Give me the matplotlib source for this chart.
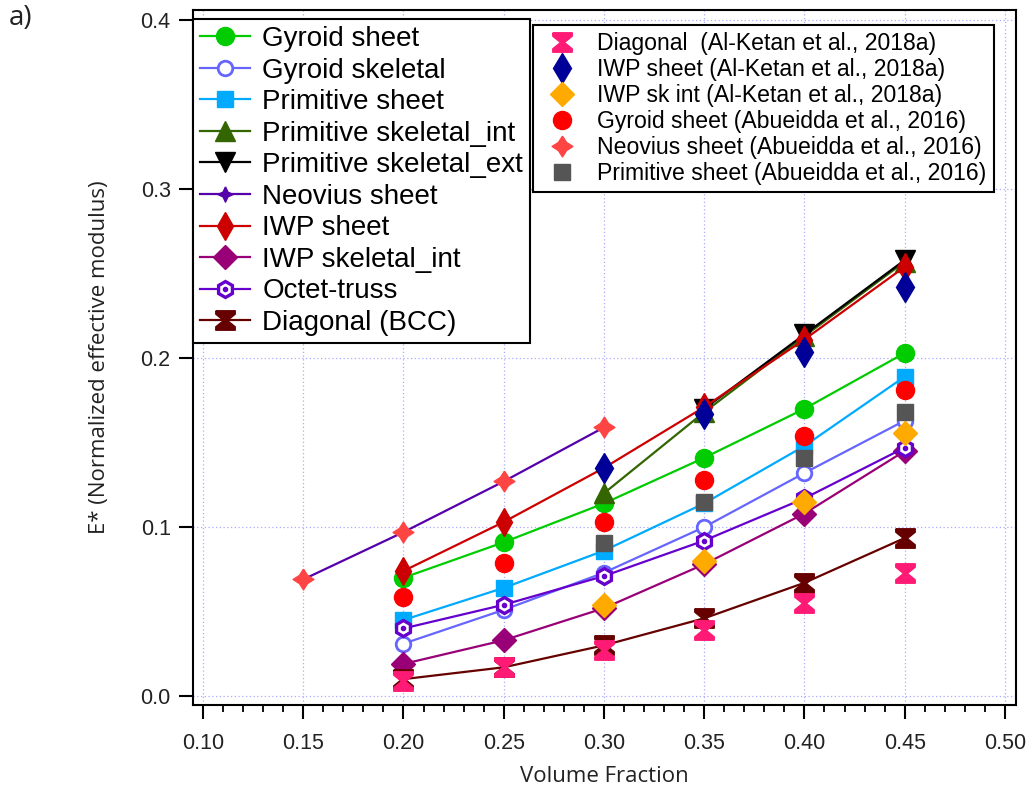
import numpy as np
import matplotlib
matplotlib.use("Agg")
import matplotlib.pyplot as plt
from matplotlib.path import Path
from matplotlib.legend_handler import HandlerTuple
from matplotlib.ticker import MultipleLocator

# === DATOS === #
vf = [0.20, 0.25, 0.30, 0.35, 0.40, 0.45]

gyroid_sheet = [0.070, 0.091, 0.114, 0.141, 0.170, 0.203]
gyroid_skeletal = [0.031, 0.051, 0.073, 0.100, 0.132, 0.163]
primitive_sheet = [0.045, 0.064, 0.086, 0.114, 0.148, 0.189]
vf_prim_int = [0.30, 0.35, 0.40, 0.45]
primitive_sk_int = [0.120, 0.168, 0.213, 0.257]
vf_prim_ext = [0.35, 0.40, 0.45]
primitive_sk_ext = [0.170, 0.214, 0.258]
vf_neovius = [0.15, 0.20, 0.25, 0.30]
neovius_sheet = [0.069, 0.097, 0.127, 0.159]
iwp_sheet = [0.074, 0.103, 0.135, 0.171, 0.211, 0.254]
iwp_sk_int = [0.019, 0.033, 0.052, 0.078, 0.108, 0.145]
octet_truss = [0.040, 0.054, 0.071, 0.092, 0.117, 0.147]
diagonal_bcc = [0.010, 0.017, 0.030, 0.046, 0.067, 0.0935]

# literatura
diag_alketan = [0.009, 0.017, 0.027, 0.039, 0.055, 0.073]
vf_iwp_alketan = [0.30, 0.35, 0.40, 0.45]
iwp_sheet_alketan = [0.135, 0.167, 0.2035, 0.242]
vf_iwpsk_alketan = [0.30, 0.35, 0.40, 0.45]
iwp_skint_alketan = [0.054, 0.080, 0.115, 0.1556]
gyroid_abueidda = [0.0586, 0.079, 0.103, 0.128, 0.154, 0.181]
vf_neo_abueidda = [0.15, 0.20, 0.25, 0.30]
neovius_abueidda = [0.069, 0.097, 0.127, 0.159]
vf_prim_abueidda = [0.30, 0.35, 0.40, 0.45]
primitive_abueidda = [0.0905, 0.115, 0.141, 0.168]

# === MARCADORES === #
reloj = Path([(-1, 1), (1, 1), (1, 0.65), (0.2, 0), (1, -0.65), (1, -1),
              (-1, -1), (-1, -0.65), (-0.2, 0), (-1, 0.65), (-1, 1)])


def estrella4(r_in):
    pts = []
    for k in range(8):
        ang = np.pi / 2 + k * np.pi / 4
        r = 1.0 if k % 2 == 0 else r_in
        pts.append((r * np.cos(ang), r * np.sin(ang)))
    pts.append(pts[0])
    return Path(pts)


estrella_neo = estrella4(0.45)
estrella_ref = estrella4(0.55)

plt.rcParams["font.family"] = ["Liberation Sans", "DejaVu Sans"]

fig = plt.figure(figsize=(10.33, 7.94), dpi=100)
ax = fig.add_axes([0.1868, 0.1121, 0.7967, 0.8753])

lw = 1.6
h_gs, = ax.plot(vf, gyroid_sheet, "-o", color="#00CC00", lw=lw, ms=13, mec="#00CC00")
h_gk, = ax.plot(vf, gyroid_skeletal, "-o", color="#6666FF", lw=lw, ms=10.5, mfc="white",
                mec="#6666FF", mew=2)
h_ps, = ax.plot(vf, primitive_sheet, "-s", color="#00AAFF", lw=lw, ms=12)
h_pi, = ax.plot(vf_prim_int, primitive_sk_int, "-^", color="#336600", lw=lw, ms=14)
h_pe, = ax.plot(vf_prim_ext, primitive_sk_ext, "-v", color="black", lw=lw, ms=14)
h_ns, = ax.plot(vf_neovius, neovius_sheet, "-", marker=estrella_neo, color="#5500AA",
                lw=lw, ms=11)
h_is, = ax.plot(vf, iwp_sheet, "-d", color="#CC0000", lw=lw, ms=14)
h_ik, = ax.plot(vf, iwp_sk_int, "-D", color="#990077", lw=lw, ms=12)
h_oc, = ax.plot(vf, octet_truss, "-h", color="#6600CC", lw=lw, ms=11.5, mfc="white",
                mec="#6600CC", mew=2.4)
h_ocp, = ax.plot(vf, octet_truss, "o", color="#6600CC", ms=3, ls="none")
h_bc, = ax.plot(vf, diagonal_bcc, "-", marker=reloj, color="#660000", lw=lw, ms=14)

# datos de literatura (solo marcadores)
r1, = ax.plot(vf, diag_alketan, ls="none", marker=reloj, color="#FF1A75", ms=14)
r2, = ax.plot(vf_iwp_alketan, iwp_sheet_alketan, ls="none", marker="d", color="#000099", ms=15)
r3, = ax.plot(vf_iwpsk_alketan, iwp_skint_alketan, ls="none", marker="D", color="#FFAA00", ms=12.5)
r4, = ax.plot(vf, gyroid_abueidda, ls="none", marker="o", color="#FF0000", ms=13)
r5, = ax.plot(vf_neo_abueidda, neovius_abueidda, ls="none", marker=estrella_ref,
              color="#FF4444", ms=15)
r6, = ax.plot(vf_prim_abueidda, primitive_abueidda, ls="none", marker="s", color="#555555", ms=12)

# === EJES === #
ax.set_xlim(0.095, 0.5055)
ax.set_ylim(-0.0053, 0.406)
ax.xaxis.set_major_locator(MultipleLocator(0.05))
ax.xaxis.set_minor_locator(MultipleLocator(0.01))
ax.yaxis.set_major_locator(MultipleLocator(0.1))
ax.xaxis.set_major_formatter(plt.FormatStrFormatter("%.2f"))
ax.yaxis.set_major_formatter(plt.FormatStrFormatter("%.1f"))
ax.tick_params(which="major", direction="out", length=10, width=1.5, labelsize=15.5,
               labelcolor="#222222", pad=6)
ax.tick_params(which="minor", direction="out", length=5, width=1.3)
ax.tick_params(axis="x", pad=10)
for s in ax.spines.values():
    s.set_linewidth(1.5)
ax.grid(True, which="major", linestyle=(0, (1, 2)), color="#AAAAFF", lw=0.9)
ax.set_axisbelow(True)

ax.set_xlabel("Volume Fraction", fontsize=16, family=["Open Sans", "DejaVu Sans"],
              color="#222222", labelpad=9)
ax.set_ylabel("E* (Normalized effective modulus)", fontsize=16,
              family=["Open Sans", "DejaVu Sans"], color="#222222", labelpad=22)
fig.text(0.008, 0.968, "a)", fontsize=20, family=["Open Sans", "DejaVu Sans"], color="#222222")

# === LEYENDAS === #
handles1 = [h_gs, h_gk, h_ps, h_pi, h_pe, h_ns, h_is, h_ik, (h_oc, h_ocp), h_bc]
labels1 = ["Gyroid sheet", "Gyroid skeletal", "Primitive sheet", "Primitive skeletal_int",
           "Primitive skeletal_ext", "Neovius sheet", "IWP sheet", "IWP skeletal_int",
           "Octet-truss", "Diagonal (BCC)"]
leg1 = ax.legend(handles1, labels1, loc="upper left", bbox_to_anchor=(0.0, 0.987),
                 borderaxespad=0, fontsize=20, handlelength=1.8, handletextpad=0.45,
                 labelspacing=0.2, borderpad=0.25, fancybox=False, edgecolor="black",
                 framealpha=1, handler_map={tuple: HandlerTuple(ndivide=1)})
leg1.get_frame().set_linewidth(1.5)
ax.add_artist(leg1)

handles2 = [r1, r2, r3, r4, r5, r6]
labels2 = ["Diagonal  (Al-Ketan et al., 2018a)", "IWP sheet (Al-Ketan et al., 2018a)",
           "IWP sk int (Al-Ketan et al., 2018a)", "Gyroid sheet (Abueidda et al., 2016)",
           "Neovius sheet (Abueidda et al., 2016)", "Primitive sheet (Abueidda et al., 2016)"]
leg2 = ax.legend(handles2, labels2, loc="upper left", bbox_to_anchor=(0.413, 0.978),
                 borderaxespad=0, fontsize=16.6, handlelength=1.9, handletextpad=0.6,
                 labelspacing=0.13, borderpad=0.3, fancybox=False, edgecolor="black",
                 framealpha=1)
leg2.get_frame().set_linewidth(1.5)

fig.savefig("out.png", dpi=100)
plt.close(fig)
